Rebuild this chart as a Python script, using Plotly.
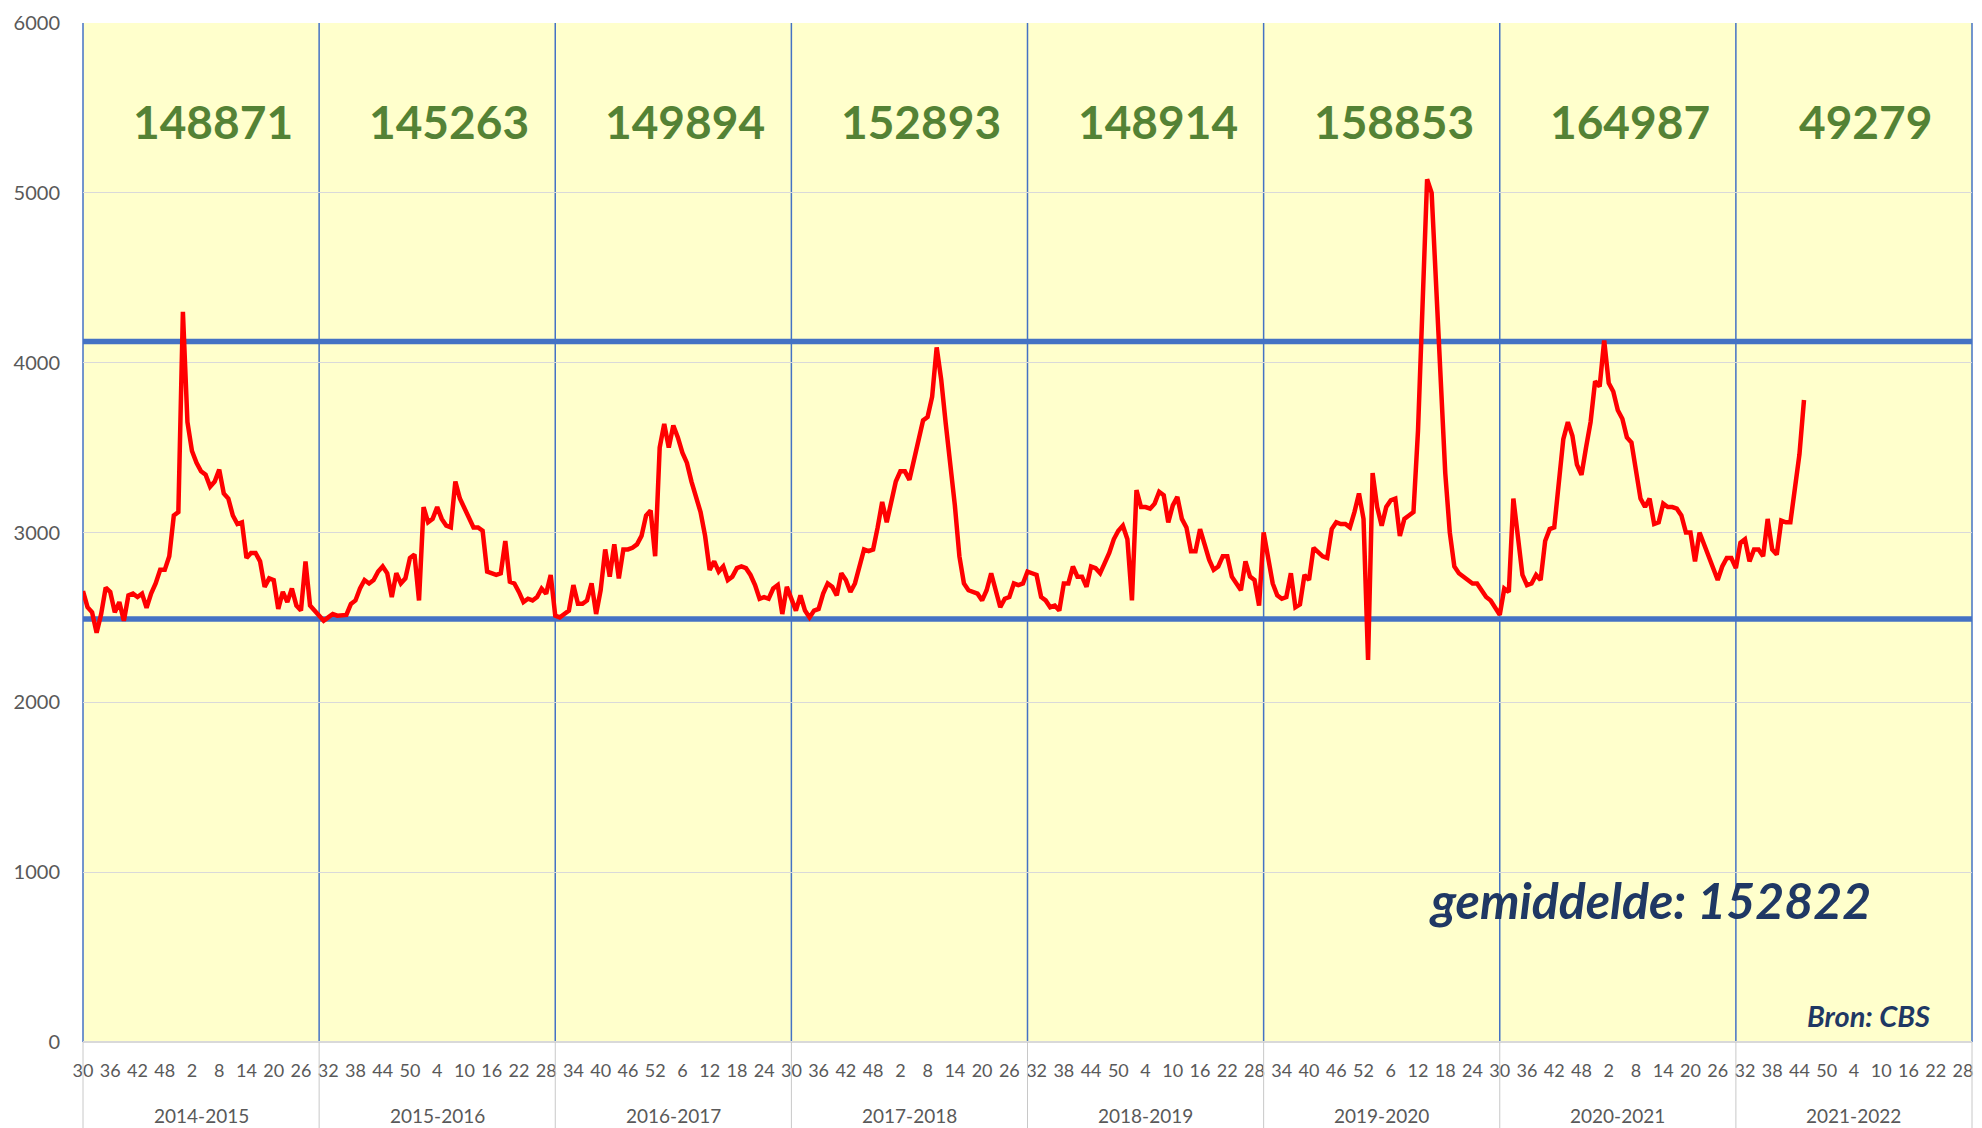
import plotly.graph_objects as go

# ---------------- data ----------------
seasons = ["2014-2015", "2015-2016", "2016-2017", "2017-2018",
           "2018-2019", "2019-2020", "2020-2021", "2021-2022"]
season_totals = [148871, 145263, 149894, 152893, 148914, 158853, 164987, 49279]
weeks = list(range(30, 53)) + list(range(1, 30))   # week numbers within a season

deaths_2014_2015 = [2655, 2560, 2530, 2410, 2520, 2675, 2650, 2530, 2590, 2480,
                    2630, 2640, 2620, 2640, 2556, 2640, 2700, 2780, 2780, 2860,
                    3100, 3120, 4300, 3650, 3480, 3410, 3360, 3340, 3270, 3300,
                    3370, 3230, 3200, 3100, 3050, 3060, 2850, 2880, 2880, 2830,
                    2680, 2730, 2720, 2550, 2650, 2590, 2670, 2570, 2540, 2830,
                    2570, 2540]
deaths_2015_2016 = [2510, 2480, 2500, 2520, 2510, 2510, 2515, 2580, 2600, 2670,
                    2720, 2700, 2720, 2770, 2800, 2760, 2620, 2760, 2700, 2730,
                    2850, 2870, 2600, 3150, 3060, 3080, 3150, 3080, 3040, 3030,
                    3300, 3200, 3140, 3080, 3030, 3030, 3010, 2770, 2760, 2750,
                    2760, 2950, 2710, 2700, 2650, 2590, 2610, 2600, 2620, 2670,
                    2640, 2750]
deaths_2016_2017 = [2510, 2500, 2520, 2540, 2690, 2580, 2580, 2600, 2700, 2520,
                    2660, 2900, 2740, 2930, 2730, 2900, 2900, 2910, 2930, 2980,
                    3100, 3130, 2860, 3500, 3640, 3500, 3630, 3560, 3470, 3410,
                    3300, 3200, 3120, 2980, 2780, 2830, 2770, 2800, 2720, 2740,
                    2790, 2800, 2790, 2750, 2690, 2610, 2620, 2610, 2670, 2690,
                    2520, 2680]
deaths_2017_2018 = [2600, 2540, 2630, 2540, 2500, 2540, 2550, 2640, 2700, 2680,
                    2630, 2760, 2720, 2650, 2700, 2800, 2900, 2890, 2900, 3030,
                    3180, 3060, 3180, 3300, 3360, 3360, 3310, 3420, 3550, 3660,
                    3680, 3800, 4090, 3900, 3640, 3400, 3160, 2860, 2700, 2660,
                    2650, 2640, 2600, 2660, 2760, 2650, 2560, 2610, 2620, 2700,
                    2690, 2700]
deaths_2018_2019 = [2770, 2760, 2750, 2620, 2600, 2560, 2570, 2540, 2700, 2700,
                    2800, 2740, 2740, 2680, 2800, 2790, 2760, 2820, 2880, 2960,
                    3010, 3040, 2960, 2600, 3250, 3150, 3150, 3140, 3170, 3240,
                    3220, 3060, 3160, 3210, 3080, 3030, 2890, 2890, 3020, 2930,
                    2840, 2780, 2800, 2860, 2860, 2740, 2700, 2660, 2830, 2740,
                    2720, 2570]
deaths_2019_2020 = [3000, 2830, 2700, 2630, 2610, 2620, 2760, 2560, 2577, 2750,
                    2720, 2910, 2880, 2860, 2850, 3020, 3060, 3050, 3050, 3030,
                    3120, 3230, 3080, 2250, 3350, 3150, 3040, 3150, 3190, 3200,
                    2980, 3080, 3100, 3120, 3600, 4300, 5080, 5000, 4450, 3850,
                    3350, 3000, 2800, 2760, 2740, 2720, 2700, 2700, 2660, 2620,
                    2600, 2560]
deaths_2020_2021 = [2515, 2670, 2650, 3200, 2950, 2750, 2690, 2700, 2750, 2720,
                    2950, 3020, 3030, 3300, 3550, 3650, 3570, 3400, 3340, 3500,
                    3650, 3890, 3860, 4130, 3880, 3830, 3720, 3670, 3560, 3530,
                    3350, 3200, 3150, 3200, 3050, 3060, 3170, 3150, 3150, 3140,
                    3100, 3000, 3000, 2830, 3000, 2930, 2870, 2790, 2720, 2800,
                    2850, 2850]
deaths_2021_2022 = [2790, 2940, 2960, 2830, 2900, 2900, 2860, 3080, 2900, 2870,
                    3070, 3060, 3060, 3260, 3460, 3780]

upper_line = 4125
lower_line = 2490
average_total = 152822

# ---------------- build ----------------
all_series = [deaths_2014_2015, deaths_2015_2016, deaths_2016_2017, deaths_2017_2018,
              deaths_2018_2019, deaths_2019_2020, deaths_2020_2021, deaths_2021_2022]
values = [v for s in all_series for v in s]
n_weeks = len(weeks)
n_seasons = len(seasons)
n_cats = n_weeks * n_seasons
x_idx = list(range(len(values)))
tick_vals = list(range(0, n_cats, 6))
tick_text = [str(weeks[i % n_weeks]) for i in tick_vals]

FONT = "Lato"
GRAY = "#595959"
BLUE = "#4472C4"

fig = go.Figure()
for lvl in (upper_line, lower_line):
    fig.add_trace(go.Scatter(x=[0, n_cats], y=[lvl, lvl], mode="lines",
                             line=dict(color=BLUE, width=5.5),
                             hoverinfo="skip", showlegend=False))
fig.add_trace(go.Scatter(x=x_idx, y=values, mode="lines",
                         line=dict(color="#FF0000", width=4.5),
                         showlegend=False))

shapes = []
for k in range(n_seasons + 1):
    xp = k / n_seasons
    shapes.append(dict(type="line", xref="paper", yref="paper", x0=xp, x1=xp,
                       y0=0, y1=1, line=dict(color=BLUE, width=1.5), layer="between"))
    shapes.append(dict(type="line", xref="paper", yref="paper", x0=xp, x1=xp,
                       y0=0, y1=-0.09, line=dict(color="#C8C8C8", width=1)))

annotations = []
for k, (name, tot) in enumerate(zip(seasons, season_totals)):
    xc = k * n_weeks + n_weeks / 2
    annotations.append(dict(x=xc, y=5420, xref="x", yref="y", text=str(tot),
                            showarrow=False, xshift=12,
                            font=dict(family=FONT, size=46, color="#548235",
                                      weight="bold")))
    annotations.append(dict(x=xc, y=0, xref="x", yref="paper", text=name,
                            showarrow=False, yshift=-73, yanchor="middle",
                            font=dict(family=FONT, size=19, color=GRAY)))

annotations.append(dict(x=0.8295, y=835, xref="paper", yref="y",
                        text=f"<b><i>gemiddelde: {average_total}</i></b>",
                        showarrow=False, xanchor="center", yanchor="middle",
                        font=dict(family=FONT, size=50, color="#1F3864")))
annotations.append(dict(x=0.979, y=159, xref="paper", yref="y",
                        text="<b><i>Bron: CBS</i></b>",
                        showarrow=False, xanchor="right", yanchor="middle",
                        font=dict(family=FONT, size=29, color="#1F3864")))

fig.update_layout(
    width=1974, height=1120,
    margin=dict(l=75, r=10, t=15, b=86, autoexpand=False),
    paper_bgcolor="white", plot_bgcolor="#FFFFCC",
    shapes=shapes, annotations=annotations,
    showlegend=False,
    font=dict(family=FONT, color=GRAY),
)
fig.update_xaxes(range=[0, n_cats], tickmode="array", tickvals=tick_vals,
                 ticktext=tick_text, tickangle=0, showgrid=False, zeroline=False,
                 ticks="", ticklabelstandoff=16, automargin=False,
                 tickfont=dict(family=FONT, size=18, color=GRAY))
fig.update_yaxes(range=[0, 6000], dtick=1000, showgrid=True, gridcolor="#D9D9D9",
                 gridwidth=1, zeroline=True, zerolinecolor="#D9D9D9",
                 ticks="", ticklabelstandoff=22, automargin=False,
                 tickfont=dict(family=FONT, size=20, color=GRAY))

fig.write_html("out.html")
